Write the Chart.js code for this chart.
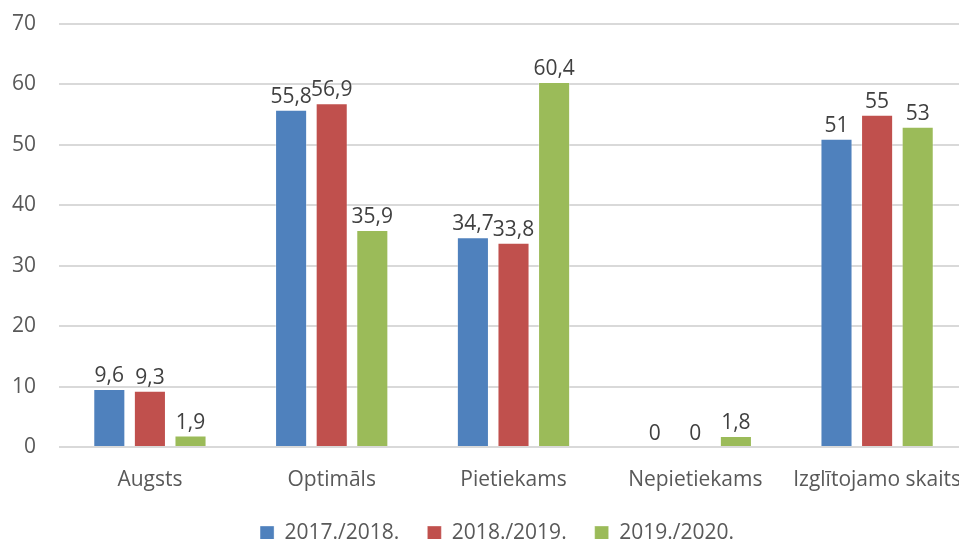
<!DOCTYPE html>
<html>
<head>
<meta charset="utf-8">
<script src="https://cdn.jsdelivr.net/npm/chart.js@4/dist/chart.umd.min.js"></script>
<style>
  html, body { margin: 0; padding: 0; background: #fff; overflow: hidden; }
  /* a bit wider than the window: the original chart is cut off on the right */
  #wrap { width: 968px; height: 539px; }
</style>
</head>
<body>
<div id="wrap"><canvas id="chart"></canvas></div>
<script>
// data
const categories = ['Augsts', 'Optimāls', 'Pietiekams', 'Nepietiekams', 'Izglītojamo skaits'];
const seriesNames = ['2017./2018.', '2018./2019.', '2019./2020.'];
const values2017 = [9.6, 55.8, 34.7, 0, 51];
const values2018 = [9.3, 56.9, 33.8, 0, 55];
const values2019 = [1.9, 35.9, 60.4, 1.8, 53];
const yTicks = [0, 10, 20, 30, 40, 50, 60, 70];

const colors = ['#4F81BD', '#C0504D', '#9BBB59'];
const font = "'Open Sans', sans-serif";

// labels above each bar, comma as decimal mark
const barLabels = {
    id: 'barLabels',
    afterDatasetsDraw(chart) {
        const ctx = chart.ctx;
        ctx.save();
        ctx.font = '21px ' + font;
        ctx.fillStyle = '#404040';
        ctx.textAlign = 'center';
        ctx.textBaseline = 'alphabetic';
        chart.data.datasets.forEach((ds, i) => {
            chart.getDatasetMeta(i).data.forEach((bar, j) => {
                const txt = String(ds.data[j]).replace('.', ',');
                ctx.fillText(txt, bar.x, bar.y - 7);
            });
        });
        ctx.restore();
    }
};

const allSeries = [values2017, values2018, values2019];

new Chart(document.getElementById('chart'), {
    type: 'bar',
    data: {
        labels: categories,
        datasets: seriesNames.map((name, i) => ({
            label: name,
            data: allSeries[i],
            backgroundColor: colors[i],
            borderColor: 'rgba(255,255,255,0.35)',
            borderWidth: 1,
            categoryPercentage: 0.67,
            barPercentage: 0.79
        }))
    },
    options: {
        responsive: true,
        maintainAspectRatio: false,
        animation: false,
        devicePixelRatio: 1,
        layout: { padding: { top: 14, right: -37, left: -11, bottom: -14.5 } },
        plugins: {
            legend: {
                position: 'bottom',
                labels: {
                    font: { family: font, size: 21 },
                    color: '#595959',
                    boxWidth: 14,
                    boxHeight: 14,
                    padding: 28
                }
            },
            tooltip: { enabled: false }
        },
        scales: {
            x: {
                // ticks are not drawn, tickLength only spaces the labels
                grid: { display: false, tickLength: 18.5 },
                border: { display: false },
                ticks: {
                    font: { family: font, size: 21 },
                    color: '#595959',
                    padding: 1.9
                }
            },
            y: {
                min: 0,
                max: 70,
                afterBuildTicks(axis) {
                    axis.ticks = yTicks.map(v => ({ value: v }));
                },
                grid: { color: '#D9D9D9', lineWidth: 2, drawTicks: false },
                border: { display: false },
                ticks: {
                    // small lineHeight keeps the top margin from growing with the padding
                    font: { family: font, size: 21, lineHeight: 0.1 },
                    color: '#595959',
                    padding: 23
                }
            }
        }
    },
    plugins: [barLabels]
});
</script>
</body>
</html>
